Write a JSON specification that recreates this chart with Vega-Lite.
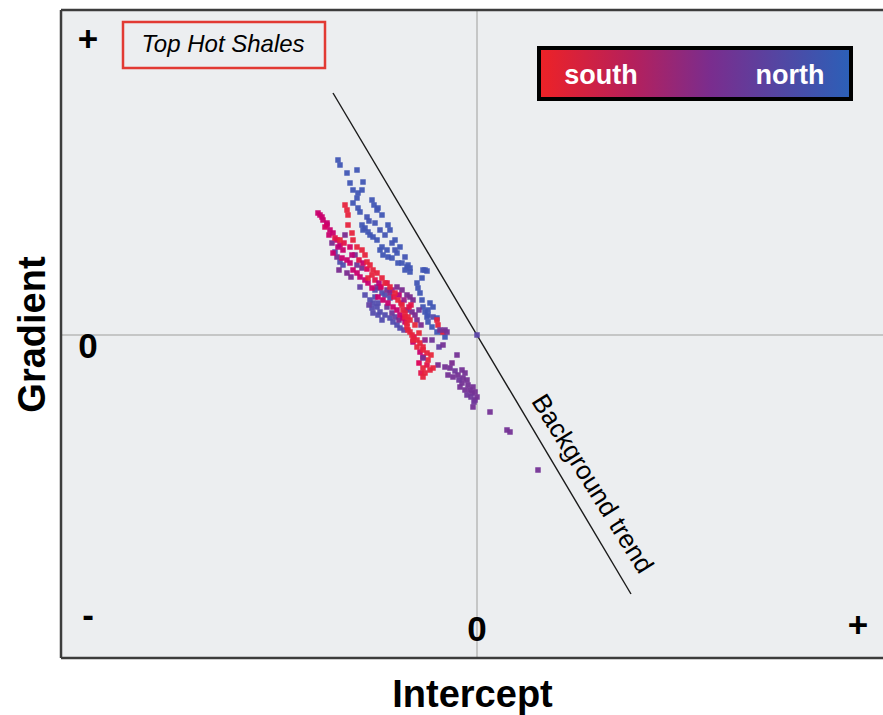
{
  "$schema": "https://vega.github.io/schema/vega-lite/v6.json",
  "autosize": "none",
  "padding": {"left": 61, "top": 10, "right": 0, "bottom": 57},
  "width": 822,
  "height": 648,
  "background": "#ffffff",
  "config": {
    "view": {"fill": "#eceef0", "stroke": null},
    "axis": {"labels": false, "ticks": false, "domain": false, "grid": false, "titleFont": "Liberation Sans", "titleFontSize": 38, "titleFontWeight": "bold", "titleColor": "#000000", "titleBaseline": "alphabetic"},
    "axisX": {"titlePadding": 48},
    "axisY": {"titlePadding": 17}
  },
  "datasets": {
    "pts": [
      {"i":-139,"g":175,"c":0.92},{"i":-137,"g":170,"c":0.92},{"i":-130,"g":162,"c":0.92},{"i":-120,"g":165,"c":0.92},{"i":-114,"g":153,"c":0.92},{"i":-127,"g":152,"c":0.92},{"i":-124,"g":145,"c":0.92},{"i":-119,"g":142,"c":0.92},{"i":-115,"g":145,"c":0.92},{"i":-120,"g":137,"c":0.92},{"i":-105,"g":135,"c":0.92},{"i":-124,"g":132,"c":0.92},{"i":-119,"g":127,"c":0.92},{"i":-117,"g":123,"c":0.92},{"i":-99,"g":127,"c":0.92},{"i":-95,"g":120,"c":0.92},{"i":-89,"g":110,"c":0.92},{"i":-87,"g":105,"c":0.92},{"i":-115,"g":110,"c":0.92},{"i":-112,"g":107,"c":0.92},{"i":-109,"g":103,"c":0.92},{"i":-107,"g":100,"c":0.92},{"i":-104,"g":98,"c":0.92},{"i":-100,"g":95,"c":0.92},{"i":-82,"g":95,"c":0.92},{"i":-77,"g":88,"c":0.92},{"i":-80,"g":82,"c":0.92},{"i":-75,"g":72,"c":0.92},{"i":-70,"g":68,"c":0.92},{"i":-67,"g":67,"c":0.92},{"i":-52,"g":65,"c":0.92},{"i":-97,"g":85,"c":0.92},{"i":-94,"g":80,"c":0.92},{"i":-89,"g":78,"c":0.92},{"i":-85,"g":77,"c":0.92},{"i":-103,"g":130,"c":0.92},{"i":-100,"g":125,"c":0.92},{"i":-114,"g":105,"c":0.92},{"i":-95,"g":88,"c":0.92},{"i":-90,"g":85,"c":0.92},{"i":-79,"g":72,"c":0.92},{"i":-72,"g":65,"c":0.92},{"i":-69,"g":70,"c":0.92},{"i":-67,"g":63,"c":0.92},{"i":-55,"g":57,"c":0.92},{"i":-60,"g":52,"c":0.92},{"i":-59,"g":47,"c":0.92},{"i":-57,"g":42,"c":0.92},{"i":-55,"g":35,"c":0.92},{"i":-54,"g":28,"c":0.92},{"i":-52,"g":23,"c":0.92},{"i":-50,"g":18,"c":0.92},{"i":-49,"g":13,"c":0.92},{"i":-45,"g":8,"c":0.92},{"i":-40,"g":3,"c":0.92},{"i":-35,"g":3,"c":0.92},{"i":-32,"g":-2,"c":0.92},{"i":-40,"g":17,"c":0.92},{"i":-54,"g":65,"c":0.92},{"i":-50,"g":64,"c":0.92},{"i":-47,"g":32,"c":0.92},{"i":-44,"g":28,"c":0.92},{"i":-49,"g":25,"c":0.92},{"i":-49,"g":20,"c":0.92},
      {"i":-110,"g":118,"c":0.9},{"i":-108,"g":114,"c":0.9},{"i":-102,"g":112,"c":0.9},{"i":-97,"g":105,"c":0.9},{"i":-92,"g":100,"c":0.9},{"i":-85,"g":92,"c":0.9},{"i":-82,"g":85,"c":0.9},{"i":-72,"g":78,"c":0.9},
      {"i":-142,"g":83,"c":0.82},{"i":-137,"g":73,"c":0.82},{"i":-134,"g":70,"c":0.82},{"i":-102,"g":38,"c":0.82},{"i":-104,"g":32,"c":0.82},{"i":-100,"g":28,"c":0.82},{"i":-105,"g":27,"c":0.82},{"i":-97,"g":23,"c":0.82},{"i":-99,"g":20,"c":0.82},{"i":-92,"g":20,"c":0.82},{"i":-87,"g":17,"c":0.82},{"i":-84,"g":13,"c":0.82},{"i":-80,"g":10,"c":0.82},{"i":-77,"g":7,"c":0.82},{"i":-95,"g":42,"c":0.82},{"i":-92,"g":40,"c":0.82},{"i":-87,"g":37,"c":0.82},{"i":-99,"g":32,"c":0.82},{"i":-102,"g":45,"c":0.82},{"i":-107,"g":35,"c":0.82},{"i":-95,"g":15,"c":0.82},
      {"i":-120,"g":70,"c":0.6},{"i":-117,"g":48,"c":0.7},{"i":-112,"g":40,"c":0.8},{"i":-108,"g":30,"c":0.7},{"i":-104,"g":22,"c":0.8},{"i":-90,"g":28,"c":0.6},{"i":-85,"g":22,"c":0.6},{"i":-82,"g":18,"c":0.7},{"i":-78,"g":15,"c":0.5},{"i":-73,"g":5,"c":0.7},{"i":-58,"g":25,"c":0.6},{"i":-56,"g":10,"c":0.5},{"i":-45,"g":-5,"c":0.6},{"i":-44,"g":18,"c":0.8},{"i":-38,"g":-12,"c":0.7},
      {"i":-100,"g":48,"c":0.5},{"i":-97,"g":47,"c":0.5},{"i":-90,"g":45,"c":0.5},{"i":-87,"g":42,"c":0.5},{"i":-80,"g":48,"c":0.5},{"i":-75,"g":45,"c":0.5},{"i":-70,"g":40,"c":0.5},{"i":-67,"g":38,"c":0.5},{"i":-64,"g":35,"c":0.5},{"i":-70,"g":25,"c":0.5},{"i":-65,"g":23,"c":0.5},{"i":-62,"g":20,"c":0.5},{"i":-60,"g":15,"c":0.5},{"i":-145,"g":92,"c":0.5},{"i":-140,"g":78,"c":0.5},{"i":-132,"g":100,"c":0.5},{"i":-122,"g":80,"c":0.5},{"i":-115,"g":67,"c":0.5},{"i":-39,"g":-30,"c":0.5},{"i":-138,"g":65,"c":0.5},{"i":-130,"g":62,"c":0.5},{"i":-126,"g":58,"c":0.5},
      {"i":-159,"g":122,"c":0.25},{"i":-157,"g":120,"c":0.25},{"i":-154,"g":115,"c":0.25},{"i":-150,"g":110,"c":0.25},{"i":-147,"g":105,"c":0.25},{"i":-144,"g":102,"c":0.25},{"i":-140,"g":95,"c":0.25},{"i":-137,"g":90,"c":0.25},{"i":-134,"g":85,"c":0.25},{"i":-130,"g":75,"c":0.25},{"i":-127,"g":72,"c":0.25},{"i":-124,"g":65,"c":0.25},{"i":-120,"g":62,"c":0.25},{"i":-117,"g":58,"c":0.25},{"i":-112,"g":55,"c":0.25},{"i":-109,"g":52,"c":0.25},{"i":-105,"g":47,"c":0.25},{"i":-99,"g":38,"c":0.25},{"i":-94,"g":35,"c":0.25},{"i":-89,"g":32,"c":0.25},{"i":-84,"g":28,"c":0.25},{"i":-155,"g":118,"c":0.25},{"i":-150,"g":112,"c":0.25},{"i":-144,"g":82,"c":0.25},{"i":-135,"g":77,"c":0.25},{"i":-80,"g":25,"c":0.25},{"i":-77,"g":20,"c":0.25},{"i":-74,"g":17,"c":0.25},{"i":-72,"g":13,"c":0.25},{"i":-64,"g":-7,"c":0.25},{"i":-57,"g":-17,"c":0.25},{"i":-54,"g":-22,"c":0.25},
      {"i":-152,"g":108,"c":0.2},{"i":-148,"g":100,"c":0.25},{"i":-142,"g":97,"c":0.1},{"i":-139,"g":88,"c":0.3},{"i":-133,"g":92,"c":0.1},{"i":-127,"g":88,"c":0.2},{"i":-125,"g":80,"c":0.3},{"i":-118,"g":75,"c":0.1},{"i":-114,"g":72,"c":0.25},{"i":-110,"g":66,"c":0.15},{"i":-102,"g":55,"c":0.1},{"i":-98,"g":52,"c":0.3},{"i":-96,"g":48,"c":0.2},{"i":-90,"g":52,"c":0.1},{"i":-85,"g":45,"c":0.4},{"i":-83,"g":38,"c":0.1},{"i":-78,"g":40,"c":0.3},{"i":-76,"g":32,"c":0.1},{"i":-73,"g":35,"c":0.4},{"i":-68,"g":28,"c":0.1},{"i":-66,"g":30,"c":0.1},{"i":-62,"g":10,"c":0.05},{"i":-58,"g":2,"c":0.05},{"i":-63,"g":-2,"c":0.1},{"i":-57,"g":-8,"c":0.05},{"i":-52,"g":-5,"c":0.45},{"i":-46,"g":-20,"c":0.05},{"i":-50,"g":-30,"c":0.1},{"i":-58,"g":-28,"c":0.15},{"i":-56,"g":-38,"c":0.1},
      {"i":-132,"g":130,"c":0.06},{"i":-130,"g":125,"c":0.06},{"i":-129,"g":120,"c":0.06},{"i":-125,"g":102,"c":0.06},{"i":-124,"g":95,"c":0.06},{"i":-120,"g":88,"c":0.06},{"i":-115,"g":85,"c":0.06},{"i":-112,"g":80,"c":0.06},{"i":-110,"g":73,"c":0.06},{"i":-107,"g":70,"c":0.06},{"i":-104,"g":65,"c":0.06},{"i":-100,"g":62,"c":0.06},{"i":-105,"g":60,"c":0.06},{"i":-109,"g":57,"c":0.06},{"i":-95,"g":57,"c":0.06},{"i":-92,"g":52,"c":0.06},{"i":-87,"g":48,"c":0.06},{"i":-82,"g":42,"c":0.06},{"i":-79,"g":35,"c":0.06},{"i":-75,"g":30,"c":0.06},{"i":-74,"g":25,"c":0.06},{"i":-72,"g":22,"c":0.06},{"i":-69,"g":18,"c":0.06},{"i":-67,"g":15,"c":0.06},{"i":-70,"g":8,"c":0.06},{"i":-67,"g":3,"c":0.06},{"i":-65,"g":0,"c":0.06},{"i":-60,"g":-5,"c":0.06},{"i":-54,"g":-12,"c":0.06},{"i":-50,"g":-18,"c":0.06},{"i":-72,"g":18,"c":0.06},{"i":-70,"g":12,"c":0.06},{"i":-69,"g":5,"c":0.06},{"i":-64,"g":-5,"c":0.06},{"i":-60,"g":-12,"c":0.06},{"i":-54,"g":-15,"c":0.06},{"i":-49,"g":-25,"c":0.06},{"i":-54,"g":-33,"c":0.06},{"i":-52,"g":-38,"c":0.06},{"i":-54,"g":-42,"c":0.06},{"i":-47,"g":-35,"c":0.06},{"i":-44,"g":-33,"c":0.06},{"i":-40,"g":15,"c":0.06},{"i":-34,"g":3,"c":0.06},{"i":-39,"g":10,"c":0.06},{"i":-137,"g":95,"c":0.06},{"i":-129,"g":110,"c":0.06},
      {"i":-32,"g":-32,"c":0.55},{"i":-29,"g":-40,"c":0.55},{"i":-24,"g":-42,"c":0.55},{"i":-19,"g":-40,"c":0.55},{"i":-15,"g":-35,"c":0.55},{"i":-12,"g":-38,"c":0.55},{"i":-14,"g":-43,"c":0.55},{"i":-15,"g":-48,"c":0.55},{"i":-17,"g":-52,"c":0.55},{"i":-10,"g":-45,"c":0.55},{"i":-9,"g":-50,"c":0.55},{"i":-7,"g":-55,"c":0.55},{"i":-5,"g":-58,"c":0.55},{"i":-4,"g":-52,"c":0.55},{"i":-2,"g":-57,"c":0.55},{"i":0,"g":-62,"c":0.55},{"i":-2,"g":-65,"c":0.55},{"i":-4,"g":-72,"c":0.55},{"i":-20,"g":-20,"c":0.55},{"i":-34,"g":-10,"c":0.55},{"i":-54,"g":-23,"c":0.55},{"i":13,"g":-77,"c":0.55},{"i":30,"g":-95,"c":0.55},{"i":33,"g":-97,"c":0.55},{"i":61,"g":-135,"c":0.55},{"i":-37,"g":5,"c":0.55},{"i":-32,"g":5,"c":0.55},{"i":-30,"g":3,"c":0.55},{"i":0,"g":0,"c":0.75},
      {"i":-27,"g":-33,"c":0.55},{"i":-22,"g":-36,"c":0.6},{"i":-18,"g":-45,"c":0.6},{"i":-12,"g":-55,"c":0.55},{"i":-6,"g":-62,"c":0.6},{"i":-3,"g":-67,"c":0.6},{"i":-25,"g":-28,"c":0.5},{"i":-10,"g":-60,"c":0.6}
    ],
    "marks": [
      {"i":-389,"g":295,"t":"+"},
      {"i":-389,"g":-12,"t":"0"},
      {"i":-389,"g":-281,"t":"-"},
      {"i":0,"g":-295,"t":"0"},
      {"i":381,"g":-291,"t":"+"}
    ]
  },
  "layer": [
    {
      "data": {"values": [{"i": 0}]},
      "mark": {"type": "rule", "color": "#b9b9b9", "strokeWidth": 1.5},
      "encoding": {"x": {"field": "i", "type": "quantitative", "title": "Intercept", "scale": {"domain": [-416, 406], "nice": false, "zero": false}}}
    },
    {
      "data": {"values": [{"g": 0}]},
      "mark": {"type": "rule", "color": "#b9b9b9", "strokeWidth": 1.5},
      "encoding": {"y": {"field": "g", "type": "quantitative", "title": "Gradient", "scale": {"domain": [-323, 325], "nice": false, "zero": false}}}
    },
    {
      "data": {"values": [{"i": -416}]},
      "mark": {"type": "rule", "color": "#3c3c3c", "strokeWidth": 2.5},
      "encoding": {"x": {"field": "i", "type": "quantitative", "title": "Intercept", "scale": {"domain": [-416, 406], "nice": false, "zero": false}}}
    },
    {
      "data": {"values": [{"g": 325}, {"g": -323}]},
      "mark": {"type": "rule", "color": "#3c3c3c", "strokeWidth": 2.5},
      "encoding": {"y": {"field": "g", "type": "quantitative", "title": "Gradient", "scale": {"domain": [-323, 325], "nice": false, "zero": false}}}
    },
    {
      "data": {"values": [{"i": -144, "g": 242}, {"i": 154, "g": -259}]},
      "mark": {"type": "line", "color": "#1a1a1a", "strokeWidth": 1.4},
      "encoding": {
        "x": {"field": "i", "type": "quantitative", "title": "Intercept", "scale": {"domain": [-416, 406], "nice": false, "zero": false}},
        "y": {"field": "g", "type": "quantitative", "title": "Gradient", "scale": {"domain": [-323, 325], "nice": false, "zero": false}}
      }
    },
    {
      "data": {"name": "pts"},
      "mark": {"type": "square", "filled": true, "size": 30, "opacity": 0.95},
      "encoding": {
        "x": {"field": "i", "type": "quantitative", "title": "Intercept", "scale": {"domain": [-416, 406], "nice": false, "zero": false}},
        "y": {"field": "g", "type": "quantitative", "title": "Gradient", "scale": {"domain": [-323, 325], "nice": false, "zero": false}},
        "color": {"field": "c", "type": "quantitative", "legend": null, "scale": {"domain": [0, 0.5, 1], "range": ["#ea3a2a", "#7a2b8f", "#2f5cb8"]}}
      }
    },
    {
      "data": {"values": [{"i": 115, "g": -149, "t": "Background trend"}]},
      "mark": {"type": "text", "angle": 58, "font": "Liberation Sans", "fontSize": 26, "color": "#000000", "align": "center", "baseline": "middle"},
      "encoding": {
        "x": {"field": "i", "type": "quantitative", "title": "Intercept", "scale": {"domain": [-416, 406], "nice": false, "zero": false}},
        "y": {"field": "g", "type": "quantitative", "title": "Gradient", "scale": {"domain": [-323, 325], "nice": false, "zero": false}},
        "text": {"field": "t"}
      }
    },
    {
      "data": {"name": "marks"},
      "mark": {"type": "text", "font": "Liberation Sans", "fontSize": 35, "fontWeight": "bold", "color": "#000000", "align": "center", "baseline": "middle"},
      "encoding": {
        "x": {"field": "i", "type": "quantitative", "title": "Intercept", "scale": {"domain": [-416, 406], "nice": false, "zero": false}},
        "y": {"field": "g", "type": "quantitative", "title": "Gradient", "scale": {"domain": [-323, 325], "nice": false, "zero": false}},
        "text": {"field": "t"}
      }
    },
    {
      "data": {"values": [{"i": -354, "i2": -152, "g": 313, "g2": 267}]},
      "mark": {"type": "rect", "fill": null, "fillOpacity": 0, "stroke": "#e23a33", "strokeWidth": 2.5},
      "encoding": {
        "x": {"field": "i", "type": "quantitative", "title": "Intercept", "scale": {"domain": [-416, 406], "nice": false, "zero": false}},
        "x2": {"field": "i2"},
        "y": {"field": "g", "type": "quantitative", "title": "Gradient", "scale": {"domain": [-323, 325], "nice": false, "zero": false}},
        "y2": {"field": "g2"}
      }
    },
    {
      "data": {"values": [{"i": -254, "g": 290, "t": "Top Hot Shales"}]},
      "mark": {"type": "text", "font": "Liberation Sans", "fontSize": 24, "fontStyle": "italic", "color": "#000000", "align": "center", "baseline": "middle"},
      "encoding": {
        "x": {"field": "i", "type": "quantitative", "title": "Intercept", "scale": {"domain": [-416, 406], "nice": false, "zero": false}},
        "y": {"field": "g", "type": "quantitative", "title": "Gradient", "scale": {"domain": [-323, 325], "nice": false, "zero": false}},
        "text": {"field": "t"}
      }
    },
    {
      "data": {"values": [{"i": 62, "i2": 374, "g": 287, "g2": 236}]},
      "mark": {"type": "rect", "stroke": "#000000", "strokeWidth": 4, "fill": {"gradient": "linear", "x1": 0, "y1": 0, "x2": 1, "y2": 0, "stops": [{"offset": 0, "color": "#ee2226"}, {"offset": 0.3, "color": "#b5205c"}, {"offset": 0.55, "color": "#7a2d8e"}, {"offset": 1, "color": "#2b60b8"}]}},
      "encoding": {
        "x": {"field": "i", "type": "quantitative", "title": "Intercept", "scale": {"domain": [-416, 406], "nice": false, "zero": false}},
        "x2": {"field": "i2"},
        "y": {"field": "g", "type": "quantitative", "title": "Gradient", "scale": {"domain": [-323, 325], "nice": false, "zero": false}},
        "y2": {"field": "g2"}
      }
    },
    {
      "data": {"values": [{"i": 124, "g": 259, "t": "south"}, {"i": 313, "g": 259, "t": "north"}]},
      "mark": {"type": "text", "font": "Liberation Sans", "fontSize": 27, "fontWeight": "bold", "color": "#ffffff", "align": "center", "baseline": "middle"},
      "encoding": {
        "x": {"field": "i", "type": "quantitative", "title": "Intercept", "scale": {"domain": [-416, 406], "nice": false, "zero": false}},
        "y": {"field": "g", "type": "quantitative", "title": "Gradient", "scale": {"domain": [-323, 325], "nice": false, "zero": false}},
        "text": {"field": "t"}
      }
    }
  ]
}
